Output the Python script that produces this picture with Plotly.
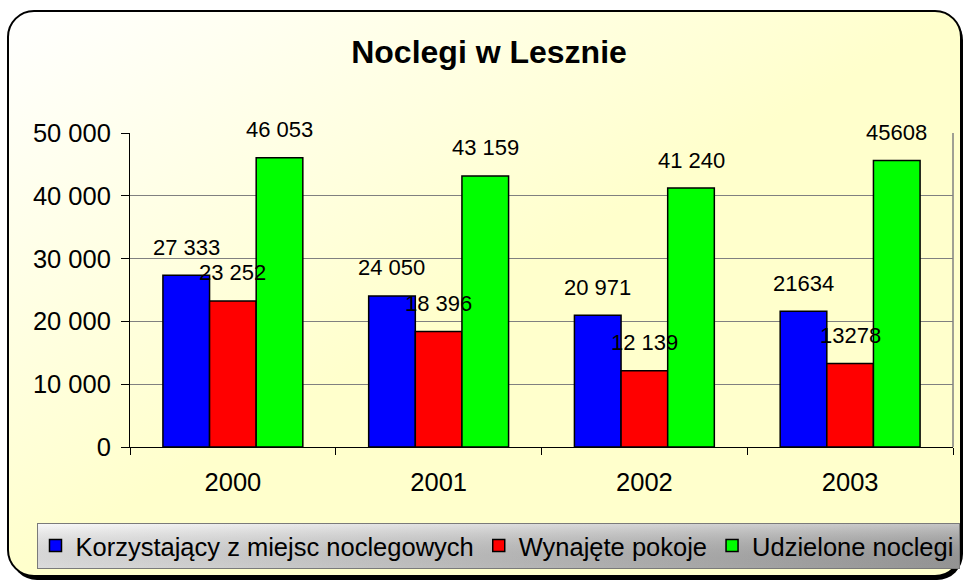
import base64
import plotly.graph_objects as go

# ---- data ----
years = ["2000", "2001", "2002", "2003"]
series_names = ["Korzystający z miejsc noclegowych", "Wynajęte pokoje", "Udzielone noclegi"]
korzystajacy = [27333, 24050, 20971, 21634]
wynajete = [23252, 18396, 12139, 13278]
udzielone = [46053, 43159, 41240, 45608]
label_korzystajacy = ["27 333", "24 050", "20 971", "21634"]
label_wynajete = ["23 252", "18 396", "12 139", "13278"]
label_udzielone = ["46 053", "43 159", "41 240", "45608"]
y_tick_max = 50000
y_tick_step = 10000

values = [korzystajacy, wynajete, udzielone]
labels = [label_korzystajacy, label_wynajete, label_udzielone]
colors = ["#0000FF", "#FF0000", "#00FF00"]

W, H = 964, 583
ML, MR, MT, MB = 130, 11, 133, 136
BARGAP = 0.32
FONT = "Liberation Sans, Arial, sans-serif"

# ---- decorative background (frame, gradient, legend box) ----
svg = f"""<svg xmlns="http://www.w3.org/2000/svg" width="{W}" height="{H}" viewBox="0 0 {W} {H}">
<defs>
<linearGradient id="bg" x1="0" y1="0" x2="1" y2="1">
<stop offset="0" stop-color="#FFFFFF"/>
<stop offset="0.5" stop-color="#FFFFCC"/>
<stop offset="1" stop-color="#FFFFCC"/>
</linearGradient>
<linearGradient id="lg" x1="0" y1="0" x2="1" y2="0">
<stop offset="0" stop-color="#F4F4F4"/>
<stop offset="1" stop-color="#A4A4A4"/>
</linearGradient>
<linearGradient id="lv" x1="0" y1="0" x2="0" y2="1">
<stop offset="0" stop-color="#FFFFFF" stop-opacity="0.35"/>
<stop offset="1" stop-color="#000000" stop-opacity="0.10"/>
</linearGradient>
</defs>
<rect x="11" y="14" width="952" height="566" rx="26" ry="26" fill="#000000"/>
<rect x="8" y="11" width="953" height="565" rx="26" ry="26" fill="url(#bg)" stroke="#000000" stroke-width="2"/>
<rect x="37.5" y="523.5" width="922" height="45" fill="url(#lg)" stroke="#7A7A7A" stroke-width="1"/>
<rect x="38" y="524" width="921" height="44" fill="url(#lv)"/>
</svg>"""
src = "data:image/svg+xml;base64," + base64.b64encode(svg.encode("utf-8")).decode("ascii")

pw = W - ML - MR
ph = H - MT - MB

fig = go.Figure()
for name, vals, col in zip(series_names, values, colors):
    fig.add_trace(go.Bar(
        x=years, y=vals, name=name,
        marker=dict(color=col, line=dict(color="#000000", width=1.5)),
    ))

bar_w = (1 - BARGAP) / 3
annotations = []
for i, (vals, labs) in enumerate(zip(values, labels)):
    for j, (v, t) in enumerate(zip(vals, labs)):
        annotations.append(dict(
            x=j + (i - 1) * bar_w, y=v, xref="x", yref="y",
            text=t, showarrow=False, yanchor="middle", xanchor="center",
            yshift=28, font=dict(family=FONT, size=22, color="#000000"),
        ))

fig.update_layout(
    width=W, height=H,
    margin=dict(l=ML, r=MR, t=MT, b=MB, pad=0, autoexpand=False),
    paper_bgcolor="#FFFFFF",
    plot_bgcolor="rgba(0,0,0,0)",
    separators=", ",
    barmode="group", bargap=BARGAP, bargroupgap=0,
    font=dict(family=FONT, color="#000000"),
    title=dict(
        text="Noclegi w Lesznie", xref="container", yref="container",
        x=489 / W, y=1 - 51.5 / H, xanchor="center", yanchor="middle",
        font=dict(family=FONT, size=32, color="#000000", weight="bold"),
    ),
    xaxis=dict(
        type="category", tickson="boundaries", ticks="outside", ticklen=7,
        tickcolor="#000000", showline=True, linecolor="#000000", linewidth=1,
        showgrid=False, tickfont=dict(family=FONT, size=25.5, color="#000000"),
        ticklabelstandoff=12,
    ),
    yaxis=dict(
        range=[0, y_tick_max], dtick=y_tick_step, tick0=0, tickformat=",d",
        ticks="outside", ticklen=8, tickcolor="#000000",
        showline=True, linecolor="#000000", linewidth=1,
        showgrid=True, gridcolor="#808080", gridwidth=1, zeroline=False,
        tickfont=dict(family=FONT, size=25.5, color="#000000"),
        ticklabelstandoff=5,
    ),
    legend=dict(
        orientation="h", xref="paper", yref="paper",
        x=(35.5 - ML) / pw, y=-(546 - (H - MB)) / ph, xanchor="left", yanchor="middle",
        bgcolor="rgba(0,0,0,0)", borderwidth=0,
        font=dict(family=FONT, size=25.5, color="#000000"),
        traceorder="normal",
    ),
    annotations=annotations,
    images=[dict(
        source=src, xref="paper", yref="paper",
        x=-ML / pw, y=1 + MT / ph, sizex=W / pw, sizey=H / ph,
        xanchor="left", yanchor="top", sizing="stretch", layer="below",
    )],
    shapes=[dict(
        type="line", xref="paper", yref="paper", x0=1, x1=1, y0=0, y1=1,
        line=dict(color="#808080", width=1.5),
    )],
    showlegend=True,
)

fig.write_html(
    "out.html",
    config={"displayModeBar": False},
    post_script="document.body.style.margin='0';document.body.style.padding='0';",
)
